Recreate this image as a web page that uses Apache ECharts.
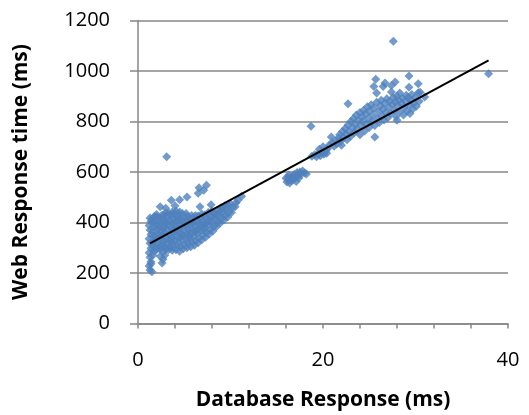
<!DOCTYPE html>
<html><head><meta charset="utf-8">
<script src="https://cdn.jsdelivr.net/npm/echarts@6/dist/echarts.min.js"></script>
<style>html,body{margin:0;padding:0;background:#fff}#c{width:529px;height:415px}</style>
</head><body><div id="c"></div>
<script>
const xTicks = [0, 20, 40];
const yTicks = [0, 200, 400, 600, 800, 1000, 1200];
const clusterLow = [
[1.3,212],[1.2,228],[1.4,245],[1.3,262],[1.2,280],[1.4,298],[1.3,318],[1.2,336],[1.4,352],[1.3,370],[1.2,388],[1.4,404],[1.3,418],
[1.5,205],[1.4,237],[1.6,270],
[1.7,286],[1.7,302],[1.6,316],[1.8,330],[1.7,348],[1.6,366],[1.8,384],[1.7,400],[1.6,416],[1.8,425],
[2.0,292],[2.2,304],[2.1,318],[2.0,336],[2.2,354],[2.1,372],[2.0,390],[2.2,406],[2.1,422],[2.0,432],
[2.4,294],[2.5,308],[2.6,326],[2.4,344],[2.5,362],[2.6,380],[2.4,398],[2.5,414],[2.6,430],
[3.0,294],[2.9,306],[2.8,324],[3.0,342],[2.9,360],[2.8,378],[3.0,396],[2.9,412],[2.8,428],[3.0,438],
[3.3,292],[3.4,304],[3.2,318],[3.3,336],[3.4,354],[3.2,372],[3.3,390],[3.4,408],[3.2,424],[3.3,438],
[3.7,290],[3.8,306],[3.6,324],[3.7,342],[3.8,360],[3.6,378],[3.7,396],[3.8,414],[3.6,430],[3.7,442],
[4.1,292],[4.2,310],[4.0,328],[4.1,346],[4.2,364],[4.0,382],[4.1,400],[4.2,418],[4.0,434],[4.1,446],
[4.5,286],[4.6,304],[4.4,322],[4.5,340],[4.6,358],[4.4,376],[4.5,394],[4.6,412],[4.4,428],[4.5,442],
[4.9,296],[5.0,314],[4.8,332],[4.9,350],[5.0,368],[4.8,386],[4.9,404],[5.0,420],[4.8,436],
[5.3,300],[5.4,318],[5.2,336],[5.3,354],[5.4,372],[5.2,390],[5.3,408],[5.4,424],[5.2,436],
[5.7,304],[5.8,322],[5.6,340],[5.7,358],[5.8,376],[5.6,394],[5.7,412],[5.8,428],
[6.1,310],[6.2,326],[6.0,344],[6.1,362],[6.2,380],[6.0,398],[6.1,414],[6.2,428],
[6.5,320],[6.6,338],[6.4,356],[6.5,374],[6.6,392],[6.4,410],[6.5,426],
[6.9,332],[7.0,350],[6.8,368],[6.9,386],[7.0,404],[6.8,420],[6.9,434],
[7.3,342],[7.4,360],[7.2,378],[7.3,396],[7.4,414],[7.2,430],
[7.7,354],[7.8,372],[7.6,390],[7.7,408],[7.8,424],[7.6,440],
[8.1,366],[8.2,384],[8.0,402],[8.1,420],[8.2,436],[8.0,446],
[8.5,384],[8.6,400],[8.4,416],[8.5,432],[8.6,448],
[8.9,398],[9.0,414],[8.8,430],[8.9,446],[9.0,458],
[9.3,410],[9.4,426],[9.2,442],[9.3,458],[9.4,466],
[9.7,422],[9.8,440],[9.6,456],[9.7,470],
[10.1,440],[10.2,458],[10.0,474],
[10.5,462],[10.6,478],
[1.9,345],[2.3,380],[2.7,352],[3.1,400],[3.5,330],[3.9,372],[4.3,410],[4.7,348],[5.1,392],[5.5,348],[5.9,400],[6.3,366],[6.7,398],[7.1,370],[7.5,402],
[3.1,660],[11.2,504],[10.8,488],[7.4,548],[7.1,528],[6.6,538],[6.5,516],[5.3,501],[4.5,490],[3.6,488],
[6.7,462],[7.9,470],[2.4,462],[4.0,466],[3.0,456],[2.7,284],[2.6,240],[2.7,254],[2.9,270],[2.4,266]
];
const clusterMid = [
[16.1,560],[16.3,568],[16.2,578],[16.5,574],[16.7,582],[16.6,565],[16.9,590],[17.0,576],[17.2,598],[17.3,585],
[17.5,600],[17.6,590],[17.8,604],[18.0,596],[18.2,592],[16.4,556],[16.8,572],[17.1,562],[17.4,576],[16.3,588],[16.0,575]
];
const clusterHigh = [
[18.7,781],[18.8,662],[19.1,668],[19.3,660],[19.5,672],[19.7,664],[19.9,678],[20.1,670],[20.3,684],[20.4,674],[19.6,690],[20.0,700],
[20.5,692],[20.9,739],[20.7,708],[21.0,716],[21.2,702],[21.4,724],[21.5,712],[21.7,735],[21.8,748],[21.9,722],[22.0,706],[22.1,760],
[22.2,738],[22.4,772],[22.5,750],[22.6,728],[22.7,870],[22.7,786],[22.8,760],[23.0,742],[23.0,800],[23.2,776],[23.3,812],[23.4,755],
[23.5,790],[23.6,826],[23.7,770],[23.8,805],[24.0,748],[24.0,836],[24.1,784],[24.2,818],[24.3,800],[24.4,845],[24.5,762],[24.6,830],
[24.7,790],[24.8,858],[24.9,812],[25.0,776],[25.0,842],[25.2,866],[25.3,800],[25.4,826],[25.5,939],[25.5,852],[25.6,739],[25.6,784],
[25.7,967],[25.8,913],[25.8,876],[25.9,812],[26.0,840],[26.1,796],[26.2,862],[26.3,884],[26.4,822],[26.5,939],[26.5,850],[26.6,806],
[26.7,952],[26.7,872],[26.8,836],[26.9,890],[27.0,815],[27.1,856],[27.2,880],[27.3,832],[27.4,943],[27.4,917],[27.5,868],[27.6,1118],
[27.6,896],[27.7,845],[27.8,956],[27.8,878],[27.9,820],[28.0,805],[28.0,900],[28.1,862],[28.2,884],[28.3,913],[28.3,840],[28.5,870],
[28.6,892],[28.7,826],[28.8,856],[28.9,880],[29.0,904],[29.1,842],[29.2,894],[29.3,980],[29.3,936],[29.4,832],[29.4,866],[29.5,886],
[29.6,907],[29.7,850],[29.8,872],[30.0,895],[30.1,860],[30.3,950],[30.3,914],[30.4,880],[30.5,916],[31.0,897],[37.9,989]
];
const trendLine = [[1.3,317],[37.9,1042]];

const FONT = 'Open Sans';
const GRID = '#878787';
const chart = echarts.init(document.getElementById('c'), null, {renderer:'canvas'});
const pointStyle = {type:'scatter', symbol:'diamond', symbolSize:9, itemStyle:{color:'#4F81BD'}, silent:true, animation:false};
chart.setOption({
  animation:false,
  backgroundColor:'#fff',
  grid:{left:138, right:21, top:20.5, bottom:91.5, containLabel:false, outerBoundsMode:'none'},
  xAxis:{type:'value', min:0, max:40, interval:4,
    name:'Database Response (ms)', nameLocation:'middle', nameGap:66,
    nameTextStyle:{fontFamily:FONT, fontSize:21, fontWeight:'bold', color:'#000'},
    axisLine:{show:true, lineStyle:{color:GRID, width:1.5}},
    axisTick:{show:true, length:5, lineStyle:{color:GRID, width:1.5}},
    splitLine:{show:false},
    axisLabel:{margin:27, fontFamily:FONT, fontSize:20, color:'#000',
      formatter:v => xTicks.includes(v) ? String(v) : ''}
  },
  yAxis:{type:'value', min:0, max:1200, interval:200,
    name:'Web Response time (ms)', nameLocation:'middle', nameGap:106, nameRotate:90,
    nameTextStyle:{fontFamily:FONT, fontSize:21, fontWeight:'bold', color:'#000'},
    axisLine:{show:true, lineStyle:{color:GRID, width:1.5}},
    axisTick:{show:true, length:8, lineStyle:{color:GRID, width:1.5}},
    splitLine:{show:true, lineStyle:{color:GRID, width:1.5}},
    axisLabel:{margin:28, fontFamily:FONT, fontSize:20, color:'#000',
      formatter:v => yTicks.includes(v) ? String(v) : ''}
  },
  series:[
    Object.assign({data:clusterLow}, pointStyle),
    Object.assign({data:clusterMid}, pointStyle),
    Object.assign({data:clusterHigh}, pointStyle),
    {type:'line', data:trendLine, symbol:'none', lineStyle:{color:'#000', width:2}, silent:true, z:5}
  ]
});
</script></body></html>
